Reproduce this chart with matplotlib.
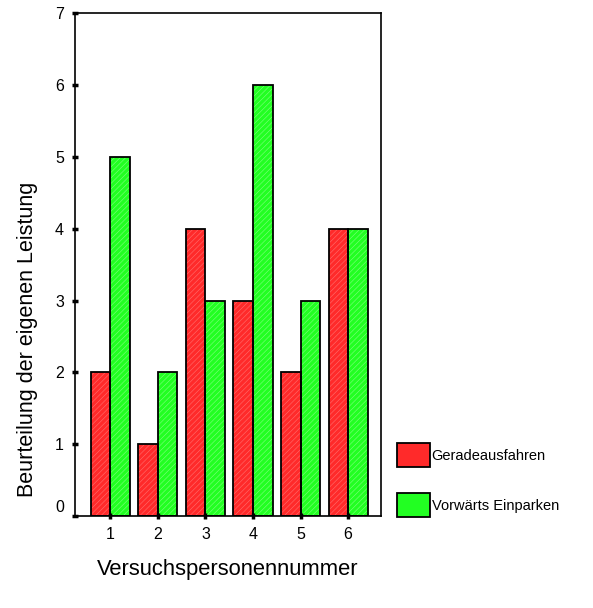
import matplotlib
matplotlib.use('Agg')

import matplotlib.pyplot as plt
import matplotlib.transforms as mtransforms
import numpy as np

plt.rcParams['font.family'] = 'Liberation Sans'
plt.rcParams['hatch.linewidth'] = 0.4

# Data
subjects = ['1', '2', '3', '4', '5', '6']
geradeaus = [2, 1, 4, 3, 2, 4]
einparken = [5, 2, 3, 6, 3, 4]

red = '#ff2a2a'
green = '#22ff22'

fig = plt.figure(figsize=(5.93, 6.08), dpi=100)
ax = fig.add_axes([0.1265, 0.1513, 0.516, 0.827])

x = np.arange(1, len(subjects) + 1)
width = 0.41

# fill with a faint texture, then black outline on top
ax.bar(x - width / 2, geradeaus, width, color=red, edgecolor='#ff7070',
       linewidth=0, hatch='//////')
ax.bar(x + width / 2, einparken, width, color=green, edgecolor='#80ff80',
       linewidth=0, hatch='//////')
ax.bar(x - width / 2, geradeaus, width, color='none', edgecolor='black',
       linewidth=1.3)
ax.bar(x + width / 2, einparken, width, color='none', edgecolor='black',
       linewidth=1.3)

ax.set_xlim(0.26, 6.69)
ax.set_ylim(0, 7)
ax.set_xticks(x)
ax.set_xticklabels(subjects)
ax.set_yticks(range(0, 8))
for s in ax.spines.values():
    s.set_linewidth(1.2)
ax.tick_params(axis='both', direction='inout', length=4, width=2.5,
               labelsize=11.5, pad=6)

# the zero label sits a bit above its tick
fig.canvas.draw()
lab0 = ax.get_yticklabels()[0]
lab0.set_transform(lab0.get_transform() +
                   mtransforms.ScaledTranslation(0, 7 / 72, fig.dpi_scale_trans))

fig.text(0.047, 1 - 339 / 608, 'Beurteilung der eigenen Leistung',
         fontsize=15.5, rotation=90, ha='center', va='center')
fig.text(228 / 593, 1 - 570 / 608, 'Versuchspersonennummer', fontsize=15.8,
         ha='center', va='center')

h1 = plt.Rectangle((0, 0), 1, 1, facecolor=red, edgecolor='black',
                   linewidth=1.3)
h2 = plt.Rectangle((0, 0), 1, 1, facecolor=green, edgecolor='black',
                   linewidth=1.3)
fig.legend(handles=[h1, h2], labels=['Geradeausfahren', 'Vorwärts Einparken'],
           loc='upper left', bbox_to_anchor=(0.659, 0.281),
           frameon=False, fontsize=10.5, handlelength=2.3, handleheight=2.15,
           handletextpad=0.1, labelspacing=1.8, borderaxespad=0)

fig.savefig('out.png', dpi=100)
